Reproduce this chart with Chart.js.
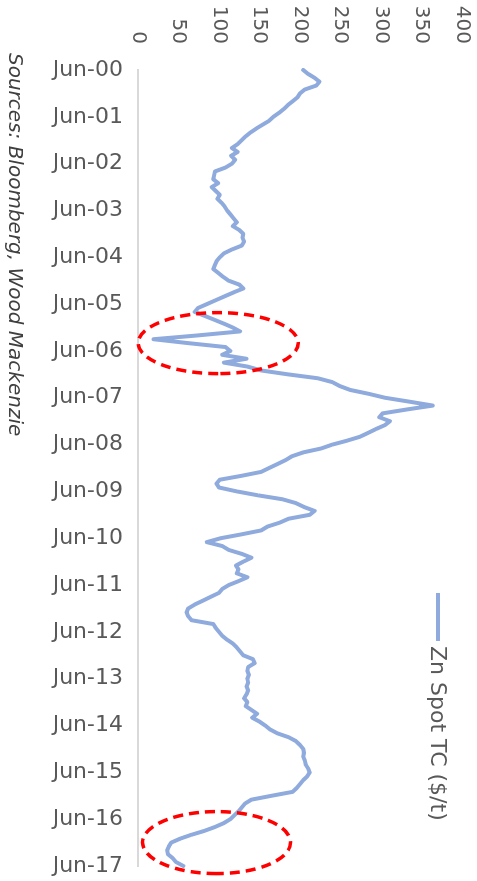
<!DOCTYPE html>
<html>
<head>
<meta charset="utf-8">
<script src="https://cdn.jsdelivr.net/npm/chart.js@4.4.1/dist/chart.umd.min.js"></script>
<style>
  html, body { margin: 0; padding: 0; background: #ffffff; width: 477px; height: 881px; overflow: hidden; }
  #wrap { position: absolute; left: 0; top: 0; width: 881px; height: 477px;
          transform-origin: 0 0; transform: translate(477px, 0) rotate(90deg); }
</style>
</head>
<body>
<div id="wrap"><canvas id="c" width="881" height="477"></canvas></div>
<script>
// ---- Data (monthly, Jun-2000 .. Jun-2017) ----
const seriesName = 'Zn Spot TC ($/t)';
const startYear = 2000;
const startMonth = 5; // June (0-based)
const monthNames = ['Jan','Feb','Mar','Apr','May','Jun','Jul','Aug','Sep','Oct','Nov','Dec'];
const tickLabels = ['Jun-00','Jun-01','Jun-02','Jun-03','Jun-04','Jun-05','Jun-06','Jun-07','Jun-08',
                    'Jun-09','Jun-10','Jun-11','Jun-12','Jun-13','Jun-14','Jun-15','Jun-16','Jun-17'];
const valueTicks = [0, 50, 100, 150, 200, 250, 300, 350, 400];
const znSpotTC = [
  204,210,218,224,220,206,200,197,191,185,180,174,      // Jun-00 .. May-01
  167,162,154,146,139,133,128,123,116,123,115,120,      // Jun-01 .. May-02
  116,108, 95, 94, 93, 99, 91, 96,101, 98,103,107,      // Jun-02 .. May-03
  110,114,118,122,117,125,130,129,131,128,116,106,      // Jun-03 .. May-04
  101, 97, 95, 93, 99,105,112,125,130,118,107, 96,      // Jun-04 .. May-05
   85, 74, 70, 82, 94,106,117,126, 75, 19, 62,108,      // Jun-05 .. May-06
  114,104,134,106,135,152,185,222,240,249,262,285,      // Jun-06 .. May-07
  305,335,364,332,302,298,311,305,294,284,274,258,      // Jun-07 .. May-08
  240,226,204,190,182,172,162,152,128,101, 97,100,      // Jun-08 .. May-09
  122,148,178,195,205,218,212,186,175,160,152,128,      // Jun-09 .. May-10
  102, 85,104,112,128,140,130,121,124,122,135,124,      // Jun-10 .. May-11
  112,104,100, 90, 80, 70, 62, 60, 62, 66, 93, 96,      // Jun-11 .. May-12
  100,104,110,117,122,126,130,142,144,136,135,137,      // Jun-12 .. May-13
  135,136,134,136,134,131,135,133,140,147,141,150,      // Jun-13 .. May-14
  157,163,172,186,195,200,204,205,204,206,207,210,      // Jun-14 .. May-15
  212,209,204,200,196,191,165,140,132,128,124,119,      // Jun-15 .. May-16
  114,106, 95, 82, 66, 52, 41, 38, 36, 37, 43, 47,      // Jun-16 .. May-17
   56                                                   // Jun-17
];
// highlighted periods: [month label, TC level] at the centre of each dashed ring
const highlightMonths = ['Apr-06', 'Dec-16'];
const highlightLevels = [99, 97];

// monthly category labels derived from the start date
const categories = znSpotTC.map((_, i) => {
  const m = (startMonth + i) % 12;
  const y = startYear + Math.floor((startMonth + i) / 12);
  return monthNames[m] + '-' + String(y % 100).padStart(2, '0');
});

const FONT = 'DejaVu Sans, Verdana, sans-serif';
const TEXT = '#595959';
const LINE = '#8FAADC';

const overlay = {
  id: 'overlay',
  afterDatasetsDraw(chart) {
    const ctx = chart.ctx;
    const xs = chart.scales.x, ys = chart.scales.y;
    // red dashed rings
    const radii = [[30.5, 80], [31, 74]];
    ctx.save();
    ctx.strokeStyle = '#FF0000';
    ctx.lineWidth = 3.5;
    ctx.setLineDash([10, 6]);
    highlightMonths.forEach((lab, i) => {
      const cx = xs.getPixelForValue(categories.indexOf(lab));
      const cy = ys.getPixelForValue(highlightLevels[i]);
      ctx.beginPath();
      ctx.ellipse(cx, cy, radii[i][0], radii[i][1], 0, 0, Math.PI * 2);
      ctx.stroke();
    });
    ctx.restore();
  },
  afterDraw(chart) {
    const ctx = chart.ctx;
    ctx.save();
    // legend
    ctx.strokeStyle = LINE;
    ctx.lineWidth = 4;
    ctx.beginPath();
    ctx.moveTo(593, 39);
    ctx.lineTo(641, 39);
    ctx.stroke();
    ctx.fillStyle = TEXT;
    ctx.font = '22px ' + FONT;
    ctx.textBaseline = 'middle';
    ctx.textAlign = 'left';
    ctx.fillText(chart.data.datasets[0].label, 646, 40);
    // source note
    ctx.fillStyle = '#404040';
    ctx.font = 'italic 20px ' + FONT;
    ctx.fillText('Sources: Bloomberg, Wood Mackenzie', 53, 463);
    ctx.restore();
  }
};

new Chart(document.getElementById('c'), {
  type: 'line',
  data: {
    labels: categories,
    datasets: [{
      label: seriesName,
      data: znSpotTC,
      borderColor: LINE,
      borderWidth: 4,
      pointRadius: 0,
      tension: 0,
      fill: false,
      borderJoinStyle: 'round',
      borderCapStyle: 'round'
    }]
  },
  options: {
    responsive: false,
    animation: false,
    devicePixelRatio: 1,
    layout: { padding: { top: 15, right: 15, left: 0, bottom: 0 } },
    plugins: { legend: { display: false }, tooltip: { enabled: false } },
    scales: {
      x: {
        type: 'category',
        grid: { display: false, drawTicks: false },
        border: { display: true, color: '#D9D9D9', width: 2 },
        ticks: {
          autoSkip: false,
          minRotation: 90,
          maxRotation: 90,
          padding: 15,
          color: TEXT,
          font: { family: FONT, size: 22 },
          callback: function (v, i) {
            const l = categories[i];
            return tickLabels.includes(l) ? l : null;
          }
        },
        afterFit(scale) {
          scale.height = 138;
          scale.paddingLeft = 0; scale.paddingRight = 0;
          scale.paddingTop = 0; scale.paddingBottom = 0;
        }
      },
      y: {
        min: 0,
        max: 400,
        grid: { display: false, drawTicks: false },
        border: { display: false },
        ticks: {
          stepSize: 50,
          padding: 26,
          color: TEXT,
          font: { family: FONT, size: 20 },
          callback: v => valueTicks.includes(v) ? String(v) : null
        },
        afterFit(scale) {
          scale.width = 70;
          scale.paddingTop = 0; scale.paddingBottom = 0;
          scale.paddingLeft = 0; scale.paddingRight = 0;
        }
      }
    }
  },
  plugins: [overlay]
});
</script>
</body>
</html>
